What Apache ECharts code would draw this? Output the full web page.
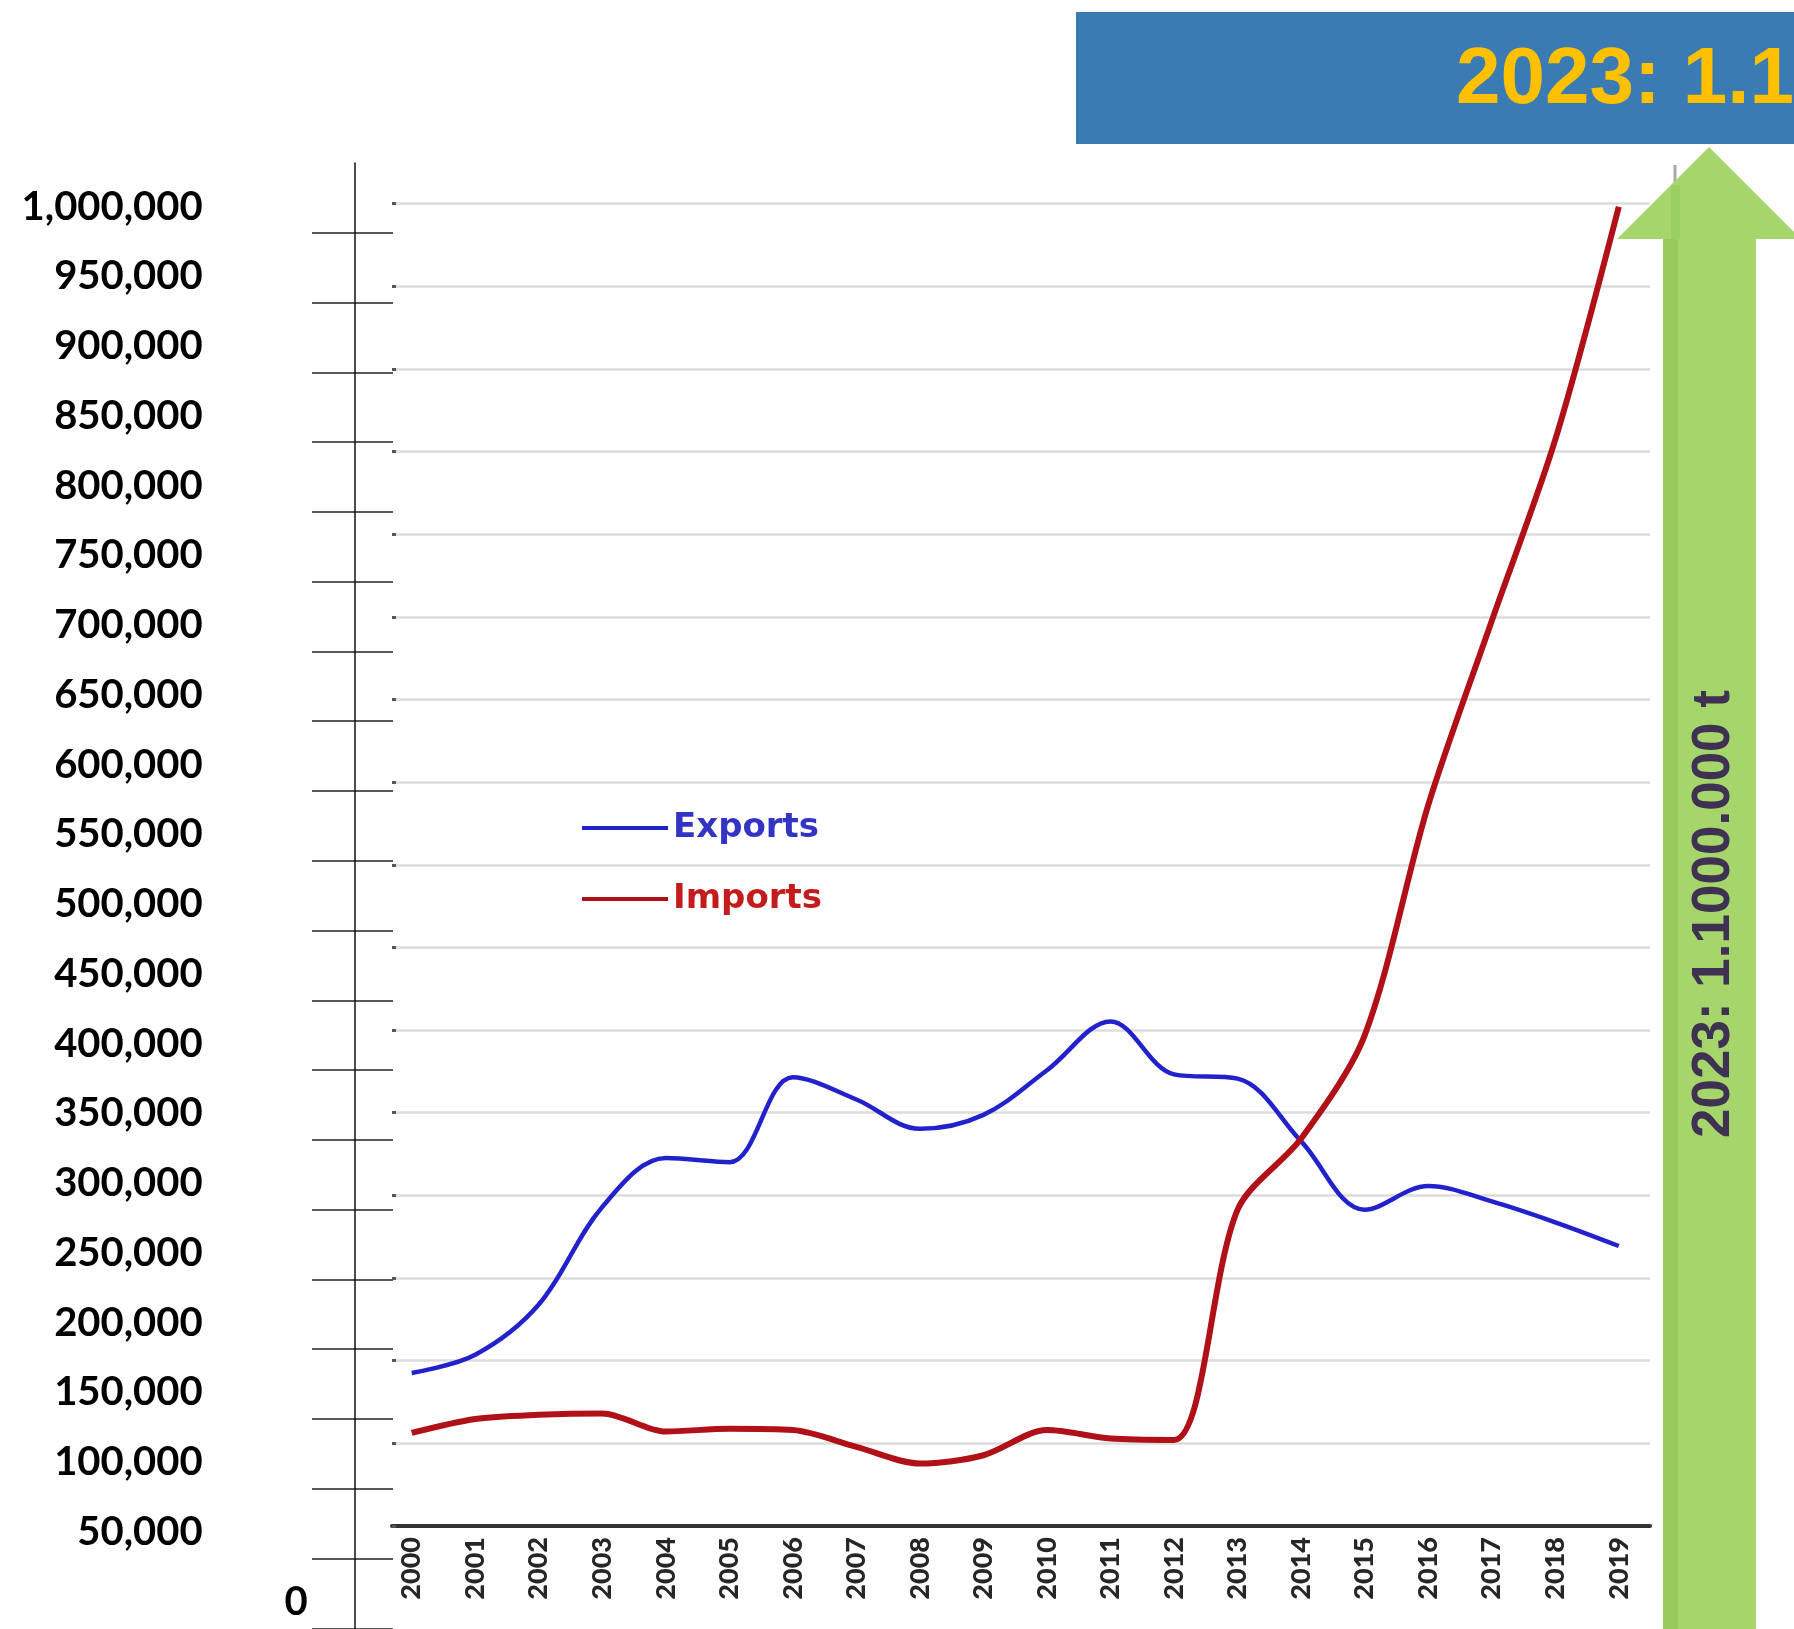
<!DOCTYPE html>
<html>
<head>
<meta charset="utf-8">
<script src="https://cdn.jsdelivr.net/npm/echarts@6/dist/echarts.min.js"></script>
<style>
html,body{margin:0;padding:0;background:#fff;}
#c{width:1794px;height:1629px;}
</style>
</head>
<body>
<div id="c"></div>
<script>
// ---- data (tonnes) ----
const years = ['2000','2001','2002','2003','2004','2005','2006','2007','2008','2009',
               '2010','2011','2012','2013','2014','2015','2016','2017','2018','2019'];
const exportsT = [164000,177000,213000,283000,318000,315000,376000,360000,339000,349000,
                  381000,416000,378000,375000,330000,281000,298000,287000,272000,255000];
const importsT = [121000,131000,134000,135000,122000,124000,123000,111000,99000,105000,
                  123000,117000,116000,281000,332000,406000,571000,703000,833000,1000000];
const yMax = 1000000;
const yStep = 50000;
const innerMax = 800000;   // scale of the original inner chart's gridlines
const bannerText = '2023: 1.1';
const arrowText = '2023: 1.1000.000 t';

const W = 1794, H = 1629;
const chart = echarts.init(document.getElementById('c'), null, {renderer:'canvas', width:W, height:H});

const fmt = v => v.toLocaleString('en-US');
const labelFont = {fontFamily:'Lato', fontWeight:'bold', fontSize:40, color:'#000'};

const option = {
  backgroundColor:'#fff',
  animation:false,
  grid:[
    // 0: data grid (values mapped to the outer axis labels)
    {left:411.7, right:W-1618.8, top:206.7, bottom:H-1601.7, containLabel:false},
    // 1: inner chart gridlines + baseline
    {left:392, right:W-1650, top:203.5, bottom:H-1526},
    // 2: outer cross tick marks
    {left:312, right:W-393, top:232.7, bottom:H-1628.3},
    // 3: outer vertical axis line
    {left:355, width:1, top:163, bottom:0},
    // 4: year labels
    {left:411.7, right:W-1618.8, top:1400, bottom:H-1526}
  ],
  xAxis:[
    {gridIndex:0, type:'category', data:years, boundaryGap:false, show:false},
    {gridIndex:1, type:'value', min:0, max:1, axisLine:{show:true, lineStyle:{color:'#333', width:4}},
      axisTick:{show:false}, axisLabel:{show:false}, splitLine:{show:false}},
    {gridIndex:2, type:'value', min:0, max:1, show:false},
    {gridIndex:3, type:'value', min:0, max:1, show:false},
    {gridIndex:4, type:'category', data:years, boundaryGap:false,
      axisLine:{show:false}, axisTick:{show:false},
      axisLabel:{rotate:90, margin:11, interval:0, color:'#262626',
        fontFamily:'Lato', fontWeight:900, fontSize:27}}
  ],
  yAxis:[
    {gridIndex:0, type:'value', position:'left', min:0, max:yMax, interval:yStep,
      axisLine:{show:false}, axisTick:{show:false}, splitLine:{show:false},
      axisLabel:Object.assign({margin:209, formatter:v => v === 0 ? '' : fmt(v)}, labelFont)},
    {gridIndex:0, type:'value', position:'left', offset:0, min:0, max:yMax, interval:yStep,
      axisLine:{show:false}, axisTick:{show:false}, splitLine:{show:false},
      axisLabel:Object.assign({margin:104, formatter:v => v === 0 ? '0' : ''}, labelFont)},
    {gridIndex:1, type:'value', min:0, max:innerMax, interval:yStep,
      axisLine:{show:false}, axisLabel:{show:false},
      axisTick:{show:true, inside:true, length:4, lineStyle:{color:'#555', width:3}},
      splitLine:{show:true, lineStyle:{color:'#dcdcdc', width:2.5}}},
    {gridIndex:2, type:'value', min:0, max:yMax, interval:yStep,
      axisLine:{show:false}, axisTick:{show:false}, axisLabel:{show:false},
      splitLine:{show:true, lineStyle:{color:'#222', width:1.5}}},
    {gridIndex:3, type:'value', min:0, max:1,
      axisLine:{show:true, lineStyle:{color:'#111', width:1.5}},
      axisTick:{show:false}, axisLabel:{show:false}, splitLine:{show:false}},
    {gridIndex:4, type:'value', show:false}
  ],
  legend:{
    orient:'vertical', left:577, top:804, itemWidth:86, itemHeight:4, itemGap:33,
    icon:'rect',
    textStyle:{fontFamily:'DejaVu Sans', fontWeight:'bold', fontSize:34, lineHeight:38, padding:[0,0,0,0]},
    data:[
      {name:'Exports', textStyle:{color:'#3434c4'}},
      {name:'Imports', textStyle:{color:'#c41c1c'}}
    ]
  },
  series:[
    {name:'Exports', type:'line', xAxisIndex:0, yAxisIndex:0, data:exportsT,
      smooth:0.35, symbol:'none', lineStyle:{color:'#2222cc', width:4.5}, itemStyle:{color:'#2222cc'}, z:3},
    {name:'Imports', type:'line', xAxisIndex:0, yAxisIndex:0, data:importsT,
      smooth:0.3, symbol:'none', lineStyle:{color:'#b01018', width:6}, itemStyle:{color:'#b01018'}, z:4}
  ],
  graphic:[
    {type:'rect', shape:{x:1076, y:12, width:W-1076, height:132}, style:{fill:'#397bb2'}, z:10},
    {type:'text', x:1456, y:81, z:11,
      style:{text:bannerText, font:'bold 80px "Liberation Sans", Arial, sans-serif', fill:'#ffc000',
        textAlign:'left', textVerticalAlign:'middle', align:'left', verticalAlign:'middle'}},
    {type:'line', shape:{x1:1675, y1:165, x2:1675, y2:240}, style:{stroke:'#a9a9a9', lineWidth:3}, z:9},
    {type:'polygon', z:10,
      shape:{points:[[1709,147],[1617,239],[1663,239],[1663,H],[1756,H],[1756,239],[1801,239]]},
      style:{fill:'#a5d56b'}},
    {type:'rect', shape:{x:1663, y:239, width:15, height:H-239}, style:{fill:'#97cb5d'}, z:10},
    {type:'rect', shape:{x:1671, y:185, width:9, height:54}, style:{fill:'#9ccf62'}, z:10},
    {type:'text', x:1714, y:914, rotation:Math.PI/2, z:11,
      style:{text:arrowText, font:'bold 53px "Liberation Sans", Arial, sans-serif', fill:'#3f3151',
        textAlign:'center', textVerticalAlign:'middle', align:'center', verticalAlign:'middle'}}
  ]
};
chart.setOption(option);
</script>
</body>
</html>
